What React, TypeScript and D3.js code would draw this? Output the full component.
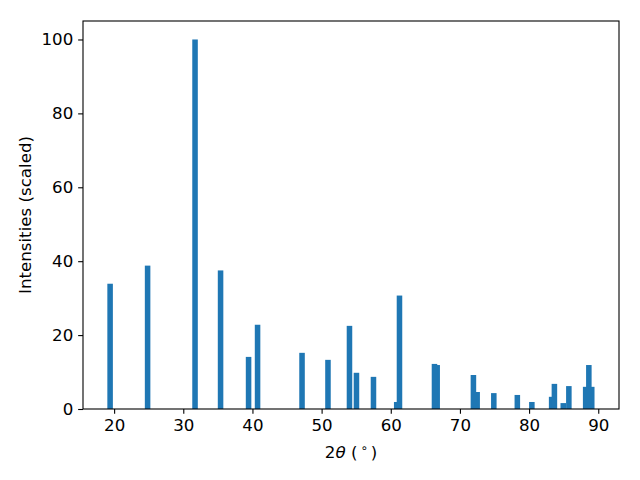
import { useEffect, useRef } from "react";
import * as d3 from "d3";

// peak positions (2θ, degrees) and scaled intensities
const twoTheta = [
  19.42, 24.84, 31.7, 35.39, 39.44, 40.74, 47.17, 50.92, 54.03, 55.04, 57.5,
  60.86, 61.26, 66.32, 66.71, 71.95, 72.49, 74.9, 78.3, 80.4, 83.26, 83.66,
  84.94, 85.75, 88.18, 88.64, 89.06,
];
const intensity = [
  33.9, 38.8, 100, 37.5, 14.1, 22.8, 15.2, 13.3, 22.5, 9.8, 8.7,
  1.9, 30.7, 12.2, 11.9, 9.2, 4.6, 4.3, 3.8, 1.9, 3.3, 6.8,
  1.6, 6.2, 6.0, 11.9, 6.0,
];
const xTicks = [20, 30, 40, 50, 60, 70, 80, 90];
const yTicks = [0, 20, 40, 60, 80, 100];

const barWidth = 0.8;

export default function App() {
  const svgRef = useRef<SVGSVGElement | null>(null);

  useEffect(() => {
    const svgEl = svgRef.current;
    if (!svgEl) return;
    const svg = d3.select(svgEl);
    svg.selectAll("*").remove();

    const width = 640;
    const height = 480;
    const margin = { top: 21, right: 21, bottom: 71, left: 83 };
    const font = "'DejaVu Sans', sans-serif";
    const fs = 16.67;

    const x = d3.scaleLinear()
      .domain([15.5, 93])
      .range([margin.left, width - margin.right]);
    const y = d3.scaleLinear()
      .domain([0, 105])
      .range([height - margin.bottom, margin.top]);

    svg.append("rect")
      .attr("width", width)
      .attr("height", height)
      .attr("fill", "#fff");

    const peaks = twoTheta.map((t, i) => ({ t, v: intensity[i] }));
    // taller bars drawn on top
    peaks.sort((a, b) => a.v - b.v);

    svg.append("g")
      .selectAll("rect")
      .data(peaks)
      .join("rect")
      .attr("x", (d) => x(d.t - barWidth / 2))
      .attr("width", (d) => x(d.t + barWidth / 2) - x(d.t - barWidth / 2))
      .attr("y", (d) => y(d.v))
      .attr("height", (d) => y(0) - y(d.v))
      .attr("fill", "#1f77b4");

    // X axis
    const gx = svg.append("g")
      .attr("transform", `translate(0,${height - margin.bottom})`)
      .call(d3.axisBottom(x).tickValues(xTicks).tickSize(4.86).tickPadding(4.86).tickSizeOuter(0));
    gx.select(".domain").remove();
    gx.selectAll("line").attr("stroke", "#000").attr("stroke-width", 1.1);
    gx.selectAll("text")
      .attr("fill", "#000")
      .attr("font-family", font)
      .attr("font-size", fs);

    // Y axis
    const gy = svg.append("g")
      .attr("transform", `translate(${margin.left},0)`)
      .call(d3.axisLeft(y).tickValues(yTicks).tickSize(4.86).tickPadding(4.86).tickSizeOuter(0));
    gy.select(".domain").remove();
    gy.selectAll("line").attr("stroke", "#000").attr("stroke-width", 1.1);
    gy.selectAll("text")
      .attr("fill", "#000")
      .attr("font-family", font)
      .attr("font-size", fs);

    // frame
    svg.append("rect")
      .attr("x", margin.left)
      .attr("y", margin.top)
      .attr("width", width - margin.left - margin.right)
      .attr("height", height - margin.top - margin.bottom)
      .attr("fill", "none")
      .attr("stroke", "#000")
      .attr("stroke-width", 1.1);

    // x label: 2θ (°)
    const xl = svg.append("text")
      .attr("x", (margin.left + width - margin.right) / 2)
      .attr("y", 458)
      .attr("text-anchor", "middle")
      .attr("font-family", font)
      .attr("font-size", fs)
      .attr("fill", "#000");
    xl.append("tspan").text("2");
    xl.append("tspan").attr("font-style", "italic").text("θ");
    xl.append("tspan").text(" (");
    xl.append("tspan").attr("font-size", fs * 0.7).attr("dx", 3).attr("dy", -6).text("∘");
    xl.append("tspan").attr("dx", 3).attr("dy", 6).text(")");

    // y label
    svg.append("text")
      .attr("transform", `translate(31,${(margin.top + height - margin.bottom) / 2}) rotate(-90)`)
      .attr("text-anchor", "middle")
      .attr("font-family", font)
      .attr("font-size", fs)
      .attr("fill", "#000")
      .text("Intensities (scaled)");
  }, []);

  return <svg ref={svgRef} width={640} height={480} style={{ display: "block", margin: -8 }} />;
}
